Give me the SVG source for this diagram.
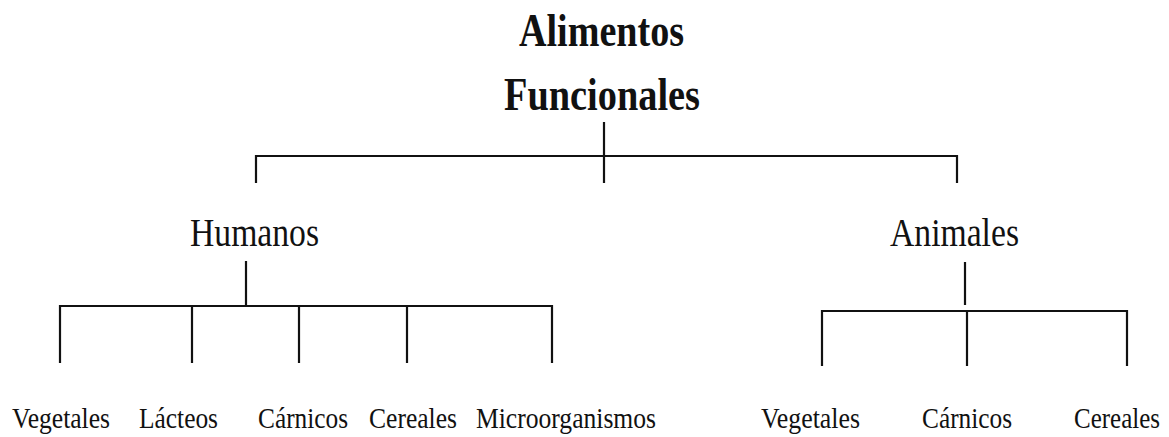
<svg xmlns="http://www.w3.org/2000/svg" width="1169" height="437" viewBox="0 0 1169 437">
<style>
text{font-family:"Liberation Serif","Times New Roman",serif;fill:#111}
.t{font-size:47px;font-weight:bold}
.m{font-size:39px}
.s{font-size:30px}
.c line{stroke:#111;stroke-width:2.2;fill:none}
</style>
<rect width="1169" height="437" fill="#fff"/>
<g id="connectors" class="c">
<line x1="604" y1="122" x2="604" y2="183"/>
<line x1="256" y1="156" x2="957" y2="156"/>
<line x1="256" y1="155" x2="256" y2="183"/>
<line x1="957" y1="155" x2="957" y2="183"/>
<line x1="246" y1="261" x2="246" y2="306"/>
<line x1="60" y1="306" x2="553" y2="306"/>
<line x1="60" y1="305" x2="60" y2="363"/>
<line x1="192" y1="306" x2="192" y2="363"/>
<line x1="299" y1="306" x2="299" y2="363"/>
<line x1="407" y1="306" x2="407" y2="363"/>
<line x1="552" y1="305" x2="552" y2="363"/>
<line x1="965" y1="262" x2="965" y2="305"/>
<line x1="822" y1="311" x2="1127" y2="311"/>
<line x1="822" y1="310" x2="822" y2="366"/>
<line x1="967" y1="311" x2="967" y2="366"/>
<line x1="1127" y1="310" x2="1127" y2="366"/>
</g>
<g id="root"><text class="t" x="519" y="46" textLength="165" lengthAdjust="spacingAndGlyphs">Alimentos</text><text class="t" x="504" y="110" textLength="196" lengthAdjust="spacingAndGlyphs">Funcionales</text></g>
<g id="humanos"><text class="m" x="190" y="246" textLength="129" lengthAdjust="spacingAndGlyphs">Humanos</text></g>
<g id="animales"><text class="m" x="890" y="246" textLength="129" lengthAdjust="spacingAndGlyphs">Animales</text></g>
<g id="h-vegetales"><text class="s" x="12" y="428" textLength="98" lengthAdjust="spacingAndGlyphs">Vegetales</text></g>
<g id="h-lacteos"><text class="s" x="139" y="428" textLength="79" lengthAdjust="spacingAndGlyphs">Lácteos</text></g>
<g id="h-carnicos"><text class="s" x="258" y="428" textLength="90" lengthAdjust="spacingAndGlyphs">Cárnicos</text></g>
<g id="h-cereales"><text class="s" x="369" y="428" textLength="88" lengthAdjust="spacingAndGlyphs">Cereales</text></g>
<g id="h-micro"><text class="s" x="476" y="428" textLength="180" lengthAdjust="spacingAndGlyphs">Microorganismos</text></g>
<g id="a-vegetales"><text class="s" x="761" y="428" textLength="99" lengthAdjust="spacingAndGlyphs">Vegetales</text></g>
<g id="a-carnicos"><text class="s" x="922" y="428" textLength="90" lengthAdjust="spacingAndGlyphs">Cárnicos</text></g>
<g id="a-cereales"><text class="s" transform="translate(1074 428) scale(0.833 1)">Cereales</text></g>
</svg>
